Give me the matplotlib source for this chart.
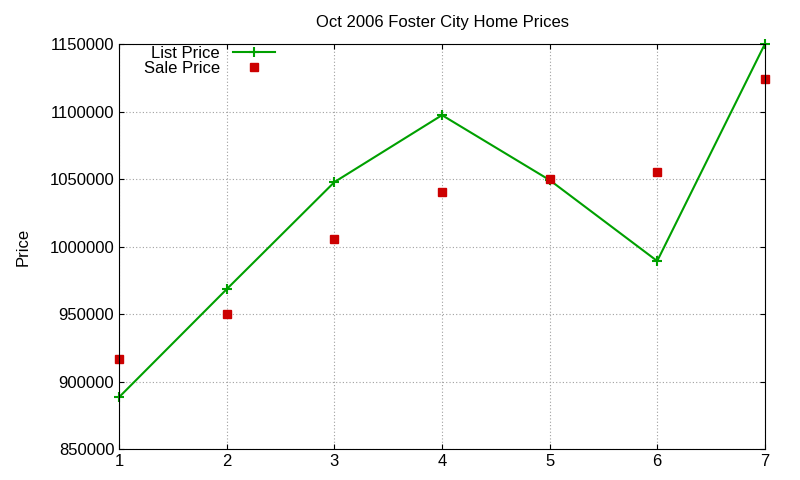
import matplotlib
matplotlib.use("Agg")
import matplotlib.pyplot as plt

plt.rcParams['font.family'] = ['Liberation Sans', 'DejaVu Sans']

x = [1, 2, 3, 4, 5, 6, 7]
list_price = [888500, 968500, 1047800, 1097400, 1049300, 989300, 1150000]
sale_price = [916700, 950000, 1005600, 1040400, 1050000, 1055200, 1124100]
yticks = [850000, 900000, 950000, 1000000, 1050000, 1100000, 1150000]

fig = plt.figure(figsize=(8, 4.8), dpi=100)
ax = fig.add_axes([0.149, 0.0646, 0.807, 0.8434])
ax.plot(x, list_price, color="#00a000", marker="+", markersize=7, mew=1.5, lw=1.5,
        label="List Price", clip_on=False)
ax.plot(x, sale_price, color="#cc0000", marker="s", markersize=6, ls="none",
        label="Sale Price", clip_on=False)
ax.set_xlim(1, 7)
ax.set_ylim(850000, 1150000)
ax.set_yticks(yticks)
ax.set_yticklabels([str(v) for v in yticks])
ax.set_xticks(x)
ax.grid(True, color="#a0a0a0", ls=(0, (1, 2)), lw=0.8)
ax.tick_params(direction="in", labelsize=12, top=True, right=True)
ax.set_ylabel("Price", fontsize=12, labelpad=14)
ax.set_title("Oct 2006 Foster City Home Prices", fontsize=12, pad=12)
ax.legend(loc="upper left", markerfirst=False, frameon=False, fontsize=12,
          bbox_to_anchor=(0.02, 1.025), handlelength=2.5, borderpad=0.2,
          labelspacing=0.0)
fig.savefig("out.png")
